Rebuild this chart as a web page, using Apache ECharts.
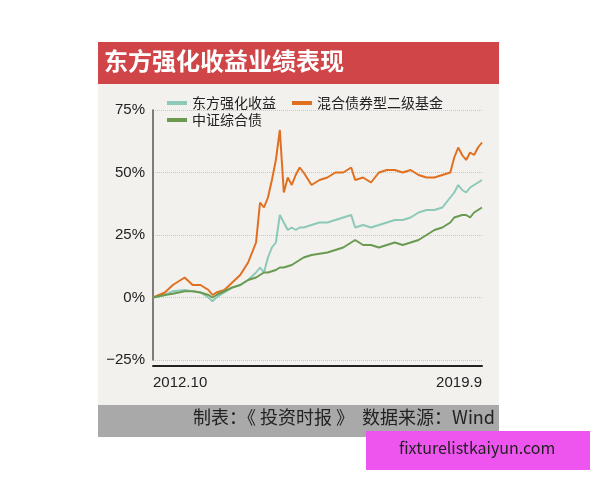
<!DOCTYPE html>
<html><head><meta charset="utf-8">
<script src="https://cdn.jsdelivr.net/npm/echarts@6/dist/echarts.min.js"></script>
<style>html,body{margin:0;padding:0;background:#fff}#c{width:600px;height:480px}</style>
</head><body><div id="c"></div>
<script>
var months = [0,3,5,8,10,12,14,15,16,18,20,22,24,26,27,28,29,30,31,32,33,34,35,36,37,38,40,42,44,46,48,50,51,53,55,57,59,61,63,65,67,69,71,73,75,76,77,78,79,80,81,82,83];
var mixedBond = [0,2,5,8,5,5,3,1,2,3,6,9,14,22,38,36,40,47,55,67,42,48,45,49,52,50,45,47,48,50,50,52,47,48,46,50,51,51,50,51,49,48,48,49,50,56,60,57,55,58,57,60,62];
var dongfang = [0,1,2.5,3,2.5,2,0,-1.5,0,2,4,5,7,10,12,10,16,20,22,33,30,27,28,27,28,28,29,30,30,31,32,33,28,29,28,29,30,31,31,32,34,35,35,36,40,42,45,43,42,44,45,46,47];
var zzBond = [0,1,1.5,2.5,2.5,2,1,0,1,2.5,4,5,7,8,9,10,10,10.5,11,12,12,12.5,13,14,15,16,17,17.5,18,19,20,22,23,21,21,20,21,22,21,22,23,25,27,28,30,32,32.5,33,33,32,34,35,36];
var xLabels = {0:'2012.10', 83:'2019.9'};
var yTicks = [-25,0,25,50,75];
function pairs(v){return months.map(function(m,i){return [m,v[i]];});}
var chart = echarts.init(document.getElementById('c'));
chart.setOption({
  animation:false,
  graphic:[
    {type:'rect',shape:{x:98,y:42,width:401,height:395},style:{fill:'#f2f1ed'},z:-10},
    {type:'rect',shape:{x:98,y:42,width:401,height:42},style:{fill:'#cf4548'},z:-9},
    {type:'rect',shape:{x:98,y:405,width:401,height:32},style:{fill:'#a9a9a9'},z:-9},
    {type:'text',left:104,top:49,style:{text:'东方强化收益业绩表现',fill:'#fff',font:'bold 24px "Noto Sans CJK SC"'}},
    {type:'text',right:105,top:408,style:{text:'制表：《 投资时报 》  数据来源：Wind',fill:'#222',font:'18px "Noto Sans CJK SC"'}},
    {type:'rect',shape:{x:366,y:431,width:224,height:39},style:{fill:'#ee55ee'},z:-8},
    {type:'text',left:399,top:440,style:{text:'fixturelistkaiyun.com',fill:'#222',font:'16px "Noto Sans CJK SC"'}}
  ],
  legend:[
    {left:162,top:91,itemWidth:20,itemHeight:4,itemGap:16,icon:'rect',textStyle:{fontSize:14,color:'#222',fontFamily:'Noto Sans CJK SC'},data:['东方强化收益','混合债券型二级基金']},
    {left:162,top:108,itemWidth:20,itemHeight:4,icon:'rect',textStyle:{fontSize:14,color:'#222',fontFamily:'Noto Sans CJK SC'},data:['中证综合债']}
  ],
  grid:{left:153,right:118,top:110,bottom:120},
  xAxis:{type:'value',min:0,max:83,interval:83,offset:6,
    axisLine:{onZero:false,lineStyle:{color:'#222',width:2}},axisTick:{show:false},splitLine:{show:false},
    axisLabel:{formatter:function(v){return xLabels[v]||'';},color:'#222',fontSize:15,fontFamily:'Liberation Sans',margin:9,
      alignMinLabel:'left',alignMaxLabel:'right'}},
  yAxis:{type:'value',min:yTicks[0],max:yTicks[yTicks.length-1],interval:25,
    axisLine:{show:true,onZero:false,lineStyle:{color:'#555',width:1.5}},axisTick:{show:false},
    splitLine:{lineStyle:{color:'#c8c8c8',type:'dotted'}},
    axisLabel:{formatter:function(v){return (v<0?'−'+(-v):v)+'%';},color:'#222',fontSize:15,fontFamily:'Liberation Sans',margin:8}},
  series:[
    {name:'东方强化收益',type:'line',data:pairs(dongfang),symbol:'none',lineStyle:{width:2,color:'#8cc9b9'},itemStyle:{color:'#8cc9b9'}},
    {name:'混合债券型二级基金',type:'line',data:pairs(mixedBond),symbol:'none',lineStyle:{width:2,color:'#e0701f'},itemStyle:{color:'#e0701f'}},
    {name:'中证综合债',type:'line',data:pairs(zzBond),symbol:'none',lineStyle:{width:2,color:'#6a9a50'},itemStyle:{color:'#6a9a50'}}
  ]
});
</script></body></html>
